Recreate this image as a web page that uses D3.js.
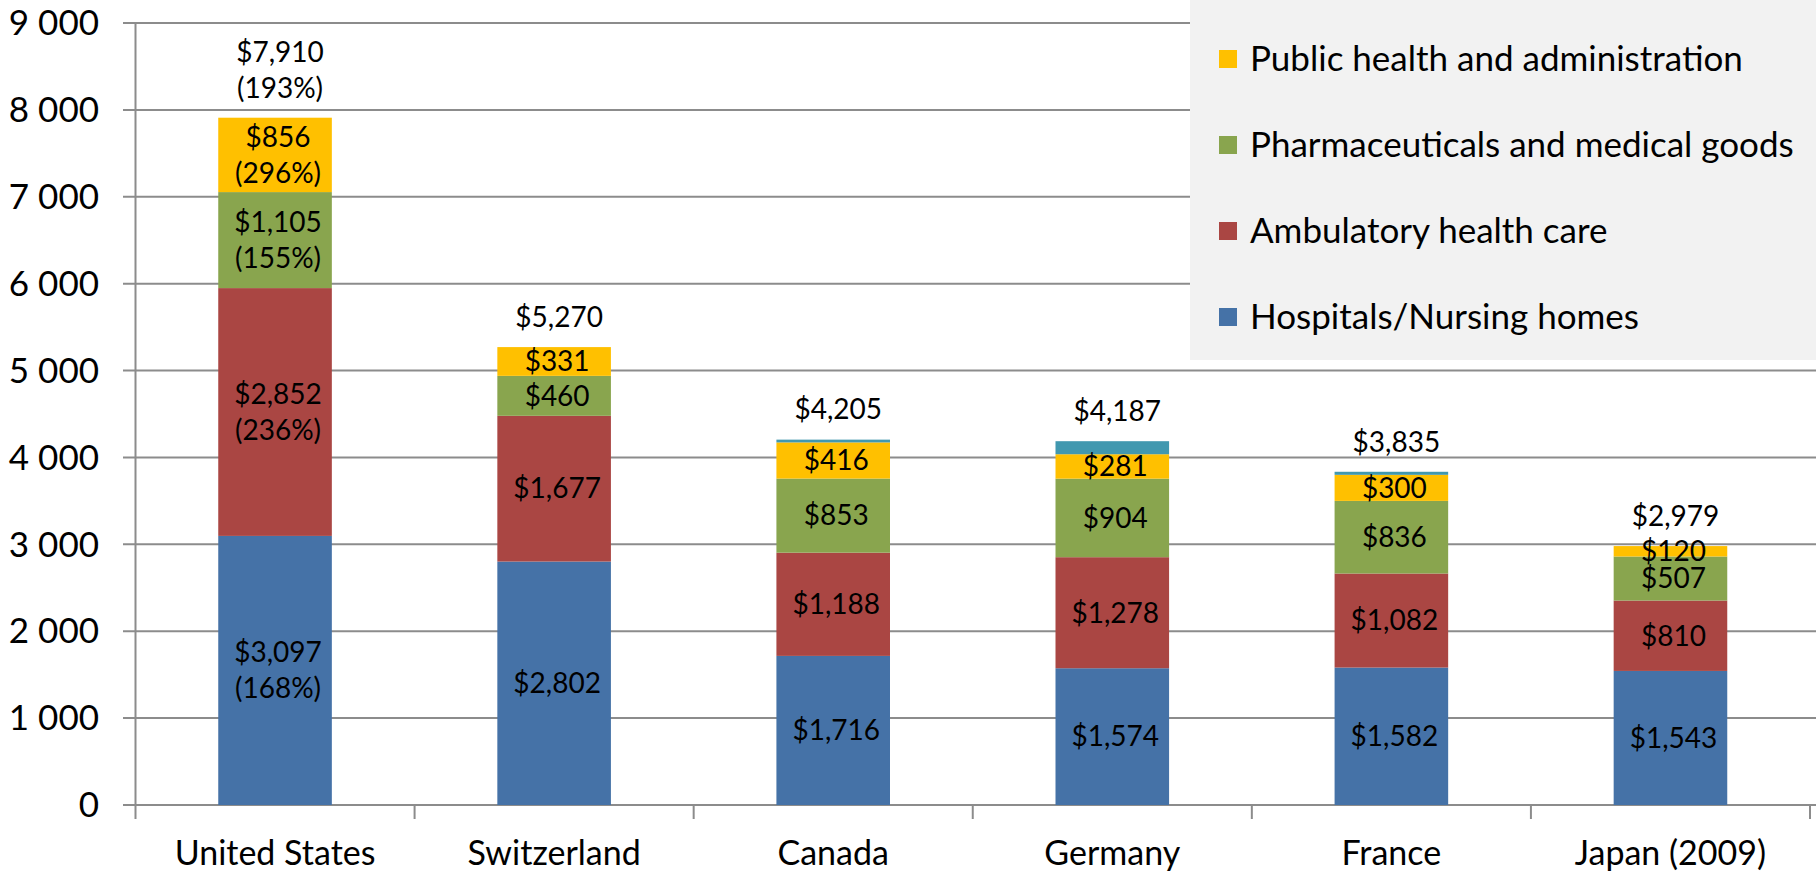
<!DOCTYPE html>
<html>
<head>
<meta charset="utf-8">
<script src="https://cdn.jsdelivr.net/npm/d3@7"></script>
<style>
  body { margin: 0; background: #fff; }
  svg text { font-family: Lato, "Open Sans", sans-serif; fill: #000; }
</style>
</head>
<body>
<svg id="chart"></svg>
<script>
// categories and series (USD per capita)
const countries = ['United States', 'Switzerland', 'Canada', 'Germany', 'France', 'Japan (2009)'];
const hospitals = [3097, 2802, 1716, 1574, 1582, 1543];
const ambulatory = [2852, 1677, 1188, 1278, 1082, 810];
const pharma = [1105, 460, 853, 904, 836, 507];
const publicHealth = [856, 331, 416, 281, 300, 120];
const otherSpend = [0, 0, 32, 150, 35, 0];
const totals = [7910, 5270, 4205, 4187, 3835, 2979];
// percentage notes shown only for the United States
const usPct = { hospitals: 168, ambulatory: 236, pharma: 155, publicHealth: 296, total: 193 };
const yTicks = [0, 1000, 2000, 3000, 4000, 5000, 6000, 7000, 8000, 9000];

const seriesNames = {
  hospitals: 'Hospitals/Nursing homes',
  ambulatory: 'Ambulatory health care',
  pharma: 'Pharmaceuticals and medical goods',
  publicHealth: 'Public health and administration'
};
const keys = ['hospitals', 'ambulatory', 'pharma', 'publicHealth', 'other'];
const colors = {
  hospitals: '#4572A7', ambulatory: '#AA4643', pharma: '#89A54E',
  publicHealth: '#FFC000', other: '#4198AF'
};

const table = countries.map((c, i) => ({
  country: c, hospitals: hospitals[i], ambulatory: ambulatory[i], pharma: pharma[i],
  publicHealth: publicHealth[i], other: otherSpend[i], total: totals[i]
}));

const W = 1816, H = 871;
const svg = d3.select('#chart').attr('width', W).attr('height', H);

const x = d3.scaleBand().domain(countries).range([135.5, 1810])
  .paddingInner(0.593).paddingOuter(0.593 / 2);
const y = d3.scaleLinear().domain([0, 9000]).range([805, 23]);

const fmt = d3.format('$,');
const tickFmt = v => d3.format(',')(v).replace(/,/g, '\u00a0');

// gridlines
svg.append('g').selectAll('line').data(yTicks).join('line')
  .attr('x1', 123).attr('x2', W)
  .attr('y1', d => y(d)).attr('y2', d => y(d))
  .attr('stroke', '#8c8c8c').attr('stroke-width', 2);

// y axis labels
svg.append('g').selectAll('text').data(yTicks).join('text')
  .attr('x', 99).attr('y', d => y(d))
  .attr('dy', '0.35em')
  .attr('text-anchor', 'end')
  .style('font-size', '35px')
  .text(tickFmt);

// y axis line
svg.append('line').attr('x1', 135.5).attr('x2', 135.5)
  .attr('y1', y(9000)).attr('y2', y(0) + 14)
  .attr('stroke', '#8c8c8c').attr('stroke-width', 2);

// category ticks
const bounds = countries.map(c => x(c) - x.step() * x.paddingInner() / 2 + x.step());
svg.append('g').selectAll('line').data(bounds).join('line')
  .attr('x1', d => d).attr('x2', d => d)
  .attr('y1', y(0)).attr('y2', y(0) + 14)
  .attr('stroke', '#8c8c8c').attr('stroke-width', 2);

// category labels
svg.append('g').selectAll('text').data(countries).join('text')
  .attr('x', d => x(d) + x.bandwidth() / 2)
  .attr('y', 853).attr('dy', '0.35em')
  .attr('text-anchor', 'middle')
  .style('font-size', '34px')
  .text(d => d);

// stacked bars
const stacked = d3.stack().keys(keys)(table);
const layers = svg.append('g').selectAll('g').data(stacked).join('g')
  .attr('fill', d => colors[d.key]);
layers.selectAll('rect').data(d => d)
  .join('rect')
  .attr('x', d => x(d.data.country))
  .attr('width', x.bandwidth())
  .attr('y', d => y(d[1]))
  .attr('height', d => y(d[0]) - y(d[1]));

// segment labels
const segLabels = [];
stacked.forEach(layer => {
  if (layer.key === 'other') return;
  layer.forEach(p => {
    const lines = [fmt(p.data[layer.key])];
    if (p.data.country === 'United States') lines.push('(' + usPct[layer.key] + '%)');
    segLabels.push({ cx: x(p.data.country) + x.bandwidth() / 2, cy: (y(p[0]) + y(p[1])) / 2, lines });
  });
});
const segText = svg.append('g').selectAll('text').data(segLabels).join('text')
  .attr('text-anchor', 'middle')
  .style('font-size', '28px');
segText.each(function(d) {
  const t = d3.select(this);
  const lh = 36;
  const top = d.cy - (d.lines.length - 1) * lh / 2;
  d.lines.forEach((ln, i) => {
    t.append('tspan').attr('x', d.cx + 3).attr('y', top + i * lh).attr('dy', '0.35em').text(ln);
  });
});

// total labels
svg.append('g').selectAll('text').data(table).join('text')
  .attr('text-anchor', 'middle')
  .style('font-size', '28px')
  .each(function(d) {
    const t = d3.select(this);
    const cx = x(d.country) + x.bandwidth() / 2 + 5;
    const base = y(d.total) - 30;
    if (d.country === 'United States') {
      t.append('tspan').attr('x', cx).attr('y', base - 36).attr('dy', '0.35em').text(fmt(d.total));
      t.append('tspan').attr('x', cx).attr('y', base).attr('dy', '0.35em').text('(' + usPct.total + '%)');
    } else {
      t.append('tspan').attr('x', cx).attr('y', base).attr('dy', '0.35em').text(fmt(d.total));
    }
  });

// legend
const legendKeys = ['publicHealth', 'pharma', 'ambulatory', 'hospitals'];
const legend = svg.append('g');
legend.append('rect').attr('x', 1190).attr('y', 0).attr('width', W - 1190).attr('height', 360)
  .attr('fill', '#F2F2F2');
const items = legend.selectAll('g.item').data(legendKeys).join('g')
  .attr('class', 'item')
  .attr('transform', (d, i) => `translate(1219,${59 + i * 86})`);
items.append('rect').attr('x', 0).attr('y', -9).attr('width', 18).attr('height', 18)
  .attr('fill', d => colors[d]);
items.append('text').attr('x', 31).attr('y', 0).attr('dy', '0.35em')
  .style('font-size', '35px')
  .text(d => seriesNames[d]);
</script>
</body>
</html>
